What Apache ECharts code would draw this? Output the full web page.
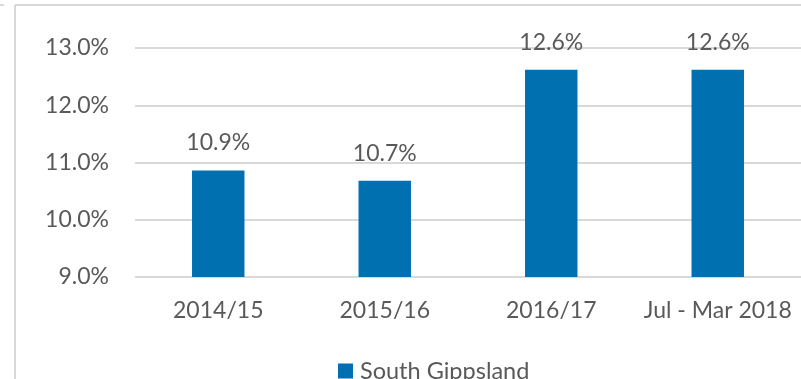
<!DOCTYPE html>
<html>
<head>
<meta charset="utf-8">
<title>South Gippsland</title>
<script src="https://cdn.jsdelivr.net/npm/echarts@6/dist/echarts.min.js"></script>
<style>
  html, body { margin: 0; padding: 0; background: #ffffff; }
  #chart { width: 801px; height: 379px; }
</style>
</head>
<body>
<div id="chart"></div>
<script>
// Periods shown along the category axis
const categories = ['2014/15', '2015/16', '2016/17', 'Jul - Mar 2018'];
// Rate for South Gippsland, in percent
const southGippsland = [10.86, 10.68, 12.62, 12.62];
// Value axis range and step, in percent
const axisMin = 9;
const axisMax = 13;
const axisStep = 1;
const seriesName = 'South Gippsland';

const textColor = '#595959';
const fontFamily = 'Lato, "Open Sans", sans-serif';

const chart = echarts.init(document.getElementById('chart'), null, { renderer: 'canvas' });

chart.setOption({
  animation: false,
  backgroundColor: '#ffffff',
  graphic: [
    // outer frame: top and left edges
    { type: 'line', shape: { x1: 15, y1: 5, x2: 801, y2: 5 }, style: { stroke: '#d9d9d9', lineWidth: 2 } },
    { type: 'line', shape: { x1: 15, y1: 5, x2: 15, y2: 379 }, style: { stroke: '#d9d9d9', lineWidth: 2 } },
    { type: 'line', shape: { x1: 0, y1: 5, x2: 4, y2: 5 }, style: { stroke: '#d9d9d9', lineWidth: 2 } }
  ],
  grid: { left: 135, right: -8, top: 48, bottom: 102, containLabel: false },
  legend: {
    left: 333,
    top: 354,
    itemWidth: 15,
    itemHeight: 15,
    icon: 'rect',
    itemGap: 10,
    textStyle: { color: textColor, fontSize: 23.5, fontFamily: fontFamily, padding: [0, 0, 0, 2] },
    data: [seriesName]
  },
  xAxis: {
    type: 'category',
    data: categories,
    axisTick: { show: false },
    axisLine: { show: false },
    axisLabel: { color: textColor, fontSize: 23, fontFamily: fontFamily, margin: 22, interval: 0 }
  },
  yAxis: {
    type: 'value',
    min: axisMin,
    max: axisMax,
    interval: axisStep,
    axisLine: { show: false },
    axisTick: { show: false },
    splitLine: { lineStyle: { color: '#d9d9d9', width: 2 } },
    axisLabel: {
      color: textColor,
      fontSize: 23,
      fontFamily: fontFamily,
      margin: 26,
      formatter: v => v.toFixed(1) + '%'
    }
  },
  series: [{
    name: seriesName,
    type: 'bar',
    data: southGippsland,
    barWidth: '31.5%',
    itemStyle: { color: '#0070b0' },
    label: {
      show: true,
      position: 'top',
      distance: 16,
      color: textColor,
      fontSize: 23,
      fontFamily: fontFamily,
      formatter: p => p.value.toFixed(1) + '%'
    }
  }]
});
</script>
</body>
</html>
